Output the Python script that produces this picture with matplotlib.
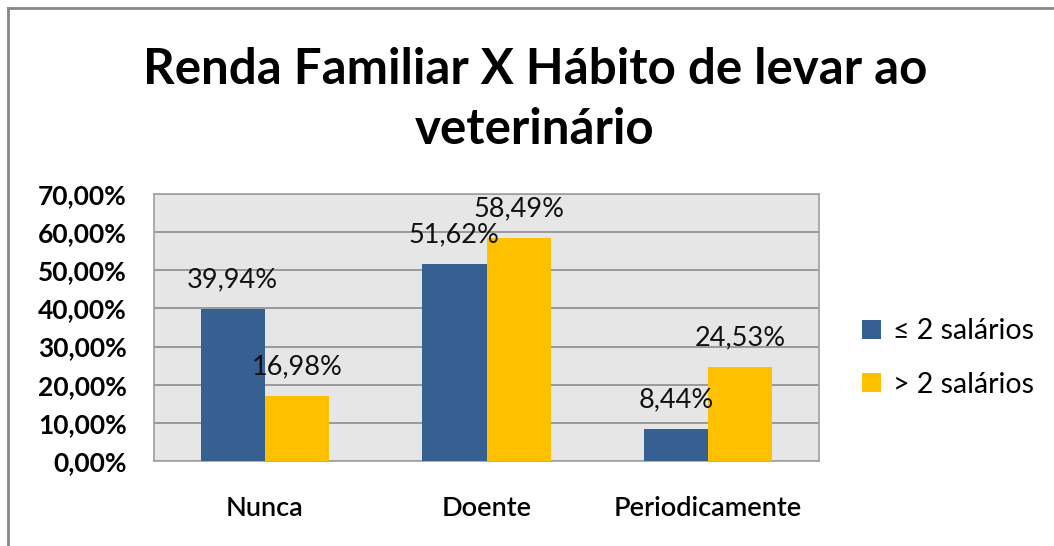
import matplotlib
matplotlib.use("Agg")
import matplotlib.pyplot as plt
import numpy as np
from matplotlib.lines import Line2D

categories = ["Nunca", "Doente", "Periodicamente"]
series_names = ["≤ 2 salários", "> 2 salários"]
low_income = [39.94, 51.62, 8.44]
high_income = [16.98, 58.49, 24.53]
colors = ["#376092", "#FFC000"]
yticks = [0, 10, 20, 30, 40, 50, 60, 70]

plt.rcParams['font.family'] = ['Lato', 'DejaVu Sans']

W, H = 1054, 546
fig = plt.figure(figsize=(W / 100, H / 100), dpi=100)
ax = fig.add_axes([154 / W, 1 - 461 / H, (819 - 154) / W, (461 - 194) / H])
ax.set_facecolor("#E6E6E6")

x = np.arange(len(categories))
bw = 0.29
for i, (vals, col, name) in enumerate(zip([low_income, high_income], colors, series_names)):
    pos = x + (i - 0.5) * bw
    ax.bar(pos, vals, width=bw, color=col, label=name, zorder=3)
    for p, v in zip(pos, vals):
        ax.annotate(f"{v:.2f}%".replace(".", ","), (p, v), xytext=(0, 12),
                    textcoords="offset points", ha="center", va="bottom",
                    fontsize=19.5, color="#111111", zorder=4)

ax.set_xlim(-0.5, len(categories) - 0.5)
ax.set_ylim(0, 70)
ax.set_yticks(yticks)
ax.set_yticklabels([f"{t:.2f}%".replace(".", ",") for t in yticks], fontsize=19, fontweight="bold")
ax.set_xticks(x)
ax.set_xticklabels(categories, fontsize=19.5, fontweight="semibold")
ax.tick_params(axis="both", length=0)
ax.tick_params(axis="y", pad=19.5)
ax.tick_params(axis="x", pad=25)
ax.grid(axis="y", color="#8C8C8C", linewidth=1.2, zorder=1)
for s in ax.spines.values():
    s.set_color("#A0A0A0")
    s.set_linewidth(1.2)

fig.text(535 / W, 1 - 69 / H, "Renda Familiar X Hábito de levar ao", ha="center", va="center",
         fontsize=35.5, fontweight="bold")
fig.text(535 / W, 1 - 129 / H, "veterinário", ha="center", va="center",
         fontsize=35.5, fontweight="bold")

leg = fig.legend(loc="center left", bbox_to_anchor=(862 / W, 1 - 358 / H), frameon=False,
                 fontsize=20.5, handlelength=0.67, handleheight=0.67, handletextpad=0.42,
                 labelspacing=0.95, borderpad=0, borderaxespad=0)

fig.add_artist(Line2D([8 / W, 1], [1 - 8 / H, 1 - 8 / H], color="#888888", linewidth=2))
fig.add_artist(Line2D([8 / W, 8 / W], [0, 1 - 8 / H], color="#888888", linewidth=2))

fig.savefig("out.png", dpi=100)
